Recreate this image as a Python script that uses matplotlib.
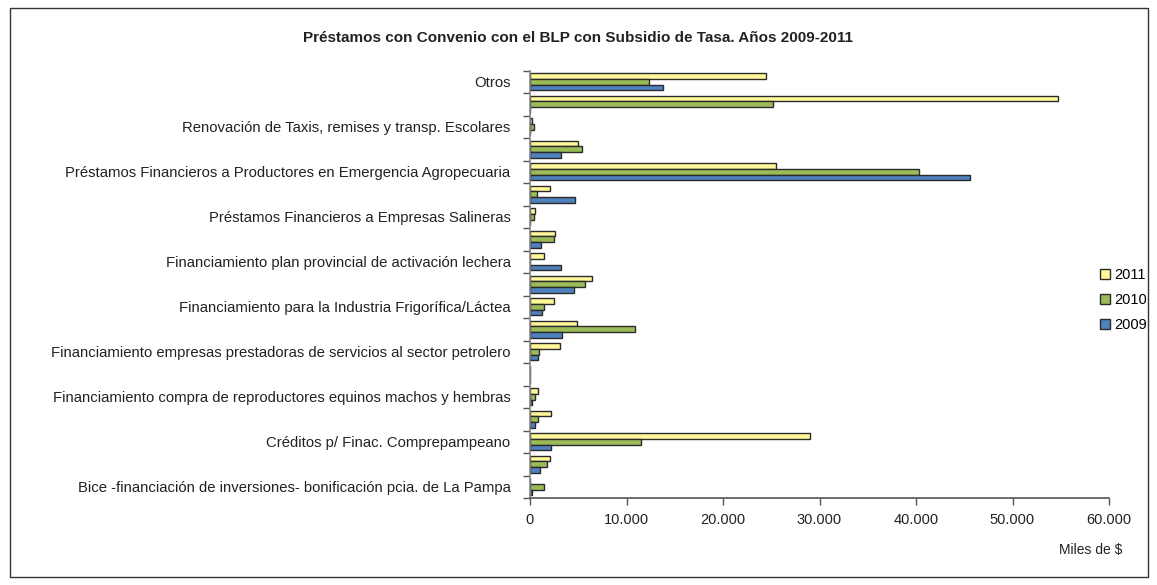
import matplotlib
matplotlib.use("Agg")
import matplotlib.pyplot as plt
import numpy as np
from matplotlib.patches import Rectangle
from matplotlib.ticker import FuncFormatter, FixedLocator

plt.rcParams['font.family'] = ['Liberation Sans', 'DejaVu Sans']

# Categories from bottom to top (unlabelled ones shown as empty strings, as in the original)
categories = [
    "Bice -financiación de inversiones- bonificación pcia. de La Pampa",
    "",
    "Créditos p/ Finac. Comprepampeano",
    "",
    "Financiamiento compra de reproductores equinos machos y hembras",
    "",
    "Financiamiento empresas prestadoras de servicios al sector petrolero",
    "",
    "Financiamiento para la Industria Frigorífica/Láctea",
    "",
    "Financiamiento plan provincial de activación lechera",
    "",
    "Préstamos Financieros a Empresas Salineras",
    "",
    "Préstamos Financieros a Productores en Emergencia Agropecuaria",
    "",
    "Renovación de Taxis, remises y transp. Escolares",
    "",
    "Otros",
]

# Values in thousands of $ (bottom to top)
v2009 = [250, 1000, 2200, 520, 250, 0, 850, 3350, 1250, 4600, 3240, 1100, 0, 4620, 45600, 3180, 0, 0, 13800]
v2010 = [1450, 1770, 11550, 800, 520, 0, 970, 10900, 1420, 5730, 0, 2500, 380, 700, 40300, 5390, 420, 25200, 12330]
v2011 = [0, 2040, 29050, 2150, 830, 0, 3080, 4840, 2500, 6460, 1450, 2600, 520, 2040, 25450, 4970, 250, 54700, 24500]

series_labels = ["2011", "2010", "2009"]
colors = {"2011": "#FFF79A", "2010": "#9BBB59", "2009": "#4F81BD"}

fig = plt.figure(figsize=(11.57, 5.85), dpi=100)
ax = fig.add_axes([530/1157, 1-498/585, (1109-530)/1157, (498-70.5)/585])

y = np.arange(len(categories))
h = 0.245
ax.barh(y + h, v2011, height=h, color=colors["2011"], edgecolor="#2b2b2b", linewidth=1.0, label="2011")
ax.barh(y, v2010, height=h, color=colors["2010"], edgecolor="#2b2b2b", linewidth=1.0, label="2010")
ax.barh(y - h, v2009, height=h, color=colors["2009"], edgecolor="#2b2b2b", linewidth=1.0, label="2009")

ax.set_xlim(0, 60000)
ax.set_ylim(-0.5, len(categories) - 0.5)
ax.set_xticks(np.arange(0, 60001, 10000))
ax.xaxis.set_major_formatter(FuncFormatter(lambda v, p: f"{int(v):,}".replace(",", ".")))
ax.set_yticks(y)
ax.set_yticklabels(categories)
ax.yaxis.set_minor_locator(FixedLocator(np.arange(-0.5, len(categories), 1.0)))
ax.tick_params(axis='y', which='major', length=0, pad=14, labelsize=10.7, colors='#222222')
ax.tick_params(axis='y', which='minor', length=5, width=1, color='#555555', direction='out')
ax.tick_params(axis='x', which='major', length=5, width=1, color='#555555', direction='out', labelsize=10.5, pad=6, labelcolor='#222222')

for s in ["top", "right"]:
    ax.spines[s].set_visible(False)
ax.spines["left"].set_color("#888888")
ax.spines["bottom"].set_color("#555555")
ax.spines["left"].set_linewidth(1.2)
ax.spines["bottom"].set_linewidth(1.2)

# Legend
handles, labels = ax.get_legend_handles_labels()
leg = fig.legend(handles, labels, loc="center left", bbox_to_anchor=(1094/1157, 1-300/585),
                 frameon=False, fontsize=10.5, handlelength=0.7, handleheight=0.7,
                 handletextpad=0.3, labelspacing=0.75, borderaxespad=0)

fig.text(578/1157, 1-38/585, "Préstamos con Convenio con el BLP con Subsidio de Tasa. Años 2009-2011",
         ha="center", va="center", fontsize=11, fontweight="bold", color="#222222")
fig.text(1091/1157, 1-550/585, "Miles de $", ha="center", va="center", fontsize=10, color="#222222")

fig.patches.append(Rectangle((10/1157, 8/585), (1148-10)/1157, (577-8)/585, transform=fig.transFigure,
                             fill=False, edgecolor="#333333", linewidth=1.0))

fig.savefig("out.png", dpi=100)
